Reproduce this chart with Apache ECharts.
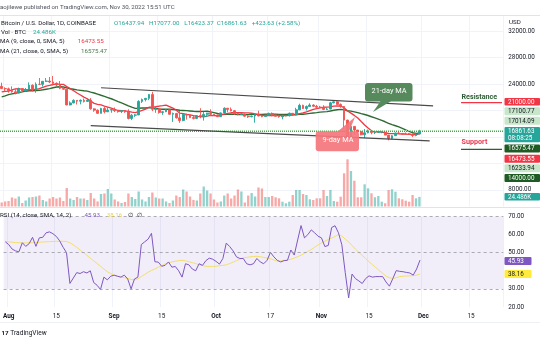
<!DOCTYPE html>
<html><head><meta charset="utf-8">
<script src="https://cdn.jsdelivr.net/npm/echarts@6/dist/echarts.min.js"></script>
<style>html,body{margin:0;padding:0;background:#fff}#c{width:540px;height:340px}</style>
</head><body><div id="c"></div>
<script>
// ---------- data ----------
const dayCount = 147; // category slots: 2022-07-31 .. 2022-12-24
const xTickDates = ['2022-08-01','2022-08-15','2022-09-01','2022-09-15','2022-10-01','2022-10-17','2022-11-01','2022-11-15','2022-12-01','2022-12-15'];
const xTickLabels = ['Aug','15','Sep','15','Oct','17','Nov','15','Dec','15'];
const priceTickLabels = [8000, 24000, 28000, 32000];
const rsiTickLabels = [20, 30, 50, 60, 70];

const open = [23640,23300,23270,22980,22820,22620,23310,22950,23170,23810,23160,23950,23940,24400,24440,24300,24100,23860,23340,23210,
20830,21140,21520,21400,21530,21370,21560,20240,20040,19560,20290,19800,20050,20130,19950,19830,19990,19800,18790,19290,
19320,21360,21650,21830,22400,20180,20240,19700,19800,20110,19420,19540,18880,18480,19400,19300,18920,18800,19220,19080,
19410,19590,19420,19310,19060,19630,20340,20160,19960,19530,19420,19450,19140,19050,19160,19380,19180,19070,19270,19550,
19330,19130,19040,19170,19210,19570,19330,20090,20770,20290,20600,20820,20630,20490,20480,20160,20210,21150,21300,20910,
20590,18540,15880,17590,17040,16800,16330,16620,16890,16660,16690,16700,16710,16280,15780,16190,16600,16520,16460,16450,
16440,16220,16437.94];
const high = [24200,23500,23450,23640,23220,23450,23350,23400,24240,23930,24230,24900,24450,24890,25050,25210,24240,24450,23600,23210,
21380,21680,21560,21660,21800,21820,21870,20320,20150,20400,20570,20470,20210,20440,20050,20000,20030,20180,19450,19460,
21550,21800,21850,22480,22800,20550,20330,19900,20190,20120,19680,19630,19950,19490,19500,19310,19180,19310,20340,19790,
19650,20180,19480,19390,19700,20470,20370,20450,20060,19610,19560,19530,19250,19220,19500,19960,19220,19360,19670,19700,
19350,19340,19250,19250,19690,19600,20400,21020,20870,20750,21080,20930,20840,20700,20790,20390,21300,21480,21370,21060,
20670,18590,18150,17640,17050,16860,17190,17120,16970,16750,16870,16800,16750,16290,16280,16660,16800,16600,16680,16600,
16480,16530,17077.00];
const low = [23220,22850,22670,22680,22430,22590,22930,22850,23150,22880,22670,23860,23600,24300,24130,23780,23700,23200,23120,20780,
20770,21070,20900,20920,21200,21320,20120,19800,19530,19550,19550,19790,19650,19760,19660,19600,19640,18650,18540,19020,
19300,21130,21370,21560,19900,19650,19510,19330,19750,19380,18270,18780,18130,18360,18620,18840,18640,18680,18820,18470,
19000,19160,19160,19000,19000,19500,19730,19860,19330,19260,19320,19030,18860,18970,18150,19100,18970,19060,19160,19110,
19070,18900,18650,19130,19080,19160,19250,20060,20230,20000,20560,20520,20250,20350,20050,20040,20190,21080,20880,20400,
17170,15590,15760,16370,16520,16240,15820,16540,16400,16430,16600,16550,16260,15480,15630,16150,16460,16350,16420,16400,
15990,16100,16423.37];
const close = [23300,23270,22980,22820,22620,23310,22950,23170,23810,23160,23950,23940,24400,24440,24300,24100,23860,23340,23210,20830,
21140,21520,21400,21530,21370,21560,20240,20040,19560,20290,19800,20050,20130,19950,19830,19990,19800,18790,19290,19320,
21360,21650,21830,22400,20180,20240,19700,19800,20110,19420,19540,18880,18480,19400,19300,18920,18800,19220,19080,19410,
19590,19420,19310,19060,19630,20340,20160,19960,19530,19420,19450,19140,19050,19160,19380,19180,19070,19270,19550,19330,
19130,19040,19170,19210,19570,19330,20090,20770,20290,20600,20820,20630,20490,20480,20160,20210,21150,21300,20910,20590,
18540,15880,17590,17040,16800,16330,16620,16890,16660,16690,16700,16710,16280,15780,16190,16600,16520,16460,16450,16440,
16220,16438,16861.63];
// volume, thousands of BTC
const volumeK = [10.2,12.8,14,23,20.4,25.5,8.9,15.3,23,24.2,25.5,28,16.6,12.8,20.4,24.2,20.4,23,14,47.2,
20.4,16.6,24.2,20.4,20.4,16.6,34.4,20.4,12.8,31.9,33.2,44.6,33.2,17.9,12.8,8.9,11.5,33.2,24.2,19.1,
38.3,17.9,12.8,24.2,35.7,23,20.4,20.4,12.8,8.9,15.3,28,24.2,43.4,38.3,25.5,16.6,15.3,33.2,51,
40.8,33.2,17.9,10.2,12.8,28,33.2,20.4,28,43.4,38.3,10.2,28,34.4,25.5,48.5,45.9,24.2,24.2,26.8,
23.5,20.9,12.2,8.2,12.2,29.3,42.1,42.1,31.9,29.3,18.4,16.6,20.9,20.9,42.1,26.8,42.1,14,12.2,25,
84.7,120.4,90.5,65.8,23.5,23.5,56.6,46.4,33.7,23.5,26.8,12.2,8.2,42.1,43.9,37.7,20.9,18.4,14.8,12.2,
29.3,20.9,24.486];
const ma9 = [22790,22880,22930,23090,23250,23290,23190,23120,23140,23120,23200,23300,23480,23680,23790,23920,24000,23940,23950,23600,
23290,22970,22630,22330,22020,21770,21420,21070,20930,20830,20640,20490,20340,20180,19990,19960,19930,19850,19740,19680,
19830,20000,20210,20490,20510,20560,20660,20720,20810,20590,20360,20030,19590,19510,19400,19320,19210,19110,19070,19050,
19130,19240,19230,19200,19280,19450,19560,19650,19670,19650,19650,19630,19630,19580,19470,19360,19260,19240,19250,19240,
19240,19230,19240,19220,19260,19290,19380,19520,19620,19790,19980,20150,20290,20390,20480,20490,20540,20650,20680,20660,
20430,19910,19590,19250,18870,18330,17810,17360,16930,16720,16810,16710,16630,16520,16500,16500,16460,16440,16410,16380,
16340,16350,16473.55];
const ma21 = [22050,22200,22380,22500,22600,22720,22800,22910,22980,22970,23000,23040,23120,23210,23300,23430,23550,23570,23540,23400,
23280,23200,23110,23040,22970,22920,22770,22630,22460,22290,22130,21950,21770,21560,21340,21130,20930,20680,20490,20310,
20330,20360,20370,20420,20350,20300,20210,20190,20190,20190,20150,20110,20030,20000,19970,19920,19870,19840,19850,19860,
19870,19780,19670,19540,19400,19410,19410,19420,19410,19370,19380,19360,19370,19400,19400,19390,19400,19420,19440,19450,
19430,19410,19400,19390,19420,19400,19390,19420,19430,19490,19550,19610,19670,19740,19790,19830,19920,20030,20110,20160,
20120,19960,19890,19790,19680,19520,19390,19240,19050,18880,18690,18490,18290,18060,17860,17690,17510,17290,17060,16850,
16640,16540,16575.47];
const rsi = [56,54.5,52,51,50.5,55.5,53.5,55,58.5,53.5,58.2,58.5,61,61.5,60.5,59,56.5,53,50,33,
36,39,38.5,39.5,38.8,40,33.5,32,29.7,36.5,35,37,37.6,37,36.5,37.6,35.5,30,35.5,36.5,
54.5,56,57.5,60.7,45,44.8,42.5,43,44.9,42,42.4,40,36.5,43.9,43.3,41,40,43.9,43,45.6,
47,46.4,45.2,43.7,46.8,55.3,53.4,51,47.7,46.8,46.8,43.9,43.3,43.9,46.8,44.9,43.9,45.8,50.2,47.7,
45.8,44.9,45.6,45.8,51.5,48.7,57,65,58.2,60,62.6,61,59.1,58.2,53.4,54,63.9,64.9,61,54.4,
39,25,38.2,35.7,34.4,33,35.7,37.2,36.5,36.8,36.8,36.8,33.8,31.5,35.7,40.1,39.7,39.5,39.1,38.8,
37.6,41,45.93];
const rsiMa = [56.3,56,55.8,55.6,55.5,55.4,55.4,55.5,55.6,55.7,55.8,55.9,56,56.1,56.2,56.3,56.3,56.3,56.2,55.5,
54.3,53,51.5,50,48.5,47,45.5,44,42.5,41,39.5,38.5,37.5,37,36.5,36.2,35.8,35.2,35,35.5,
36.8,38,39.2,40.2,41,42,42.8,43.8,44.4,44.9,45.3,45.6,45.8,45.5,45,44.5,44,43.4,42.9,42.5,
42.4,42.4,42.5,42.8,43,43.3,44,44.8,45.6,46.4,47.1,47.4,47.7,47.9,48,47.8,47.4,47,46.7,46,
45.3,45.5,45.8,46,46.4,47,47.8,48.6,49.6,50.7,51.8,53,54.3,55.4,56.4,57.3,58.1,59,60,59.2,
57.5,56,54,52,50.2,48.5,46.8,45,43.4,41.8,40.2,38.7,37,36.2,35.7,36.2,36.8,37,37.1,37.2,
37.3,37.6,38.16];
const channelUpper = [['2022-08-29', 23430], ['2022-12-04', 20680]];
const channelLower = [['2022-08-26', 17700], ['2022-12-03', 15390]];
const lastClose = 16861.63, prevLevel = 17014.09;

// ---------- build ----------
const cats = [];
for (let i = 0; i < dayCount; i++) {
  const d = new Date(Date.UTC(2022, 6, 31 + i));
  cats.push(d.toISOString().slice(0, 10));
}
const UP = '#26a69a', DOWN = '#ef5350';
const candles = open.map((o, i) => [o, close[i], low[i], high[i]]);
const vols = volumeK.map((v, i) => ({ value: v, itemStyle: { color: close[i] >= open[i] ? 'rgba(38,166,154,0.5)' : 'rgba(239,83,80,0.5)' } }));
const FONT = 'Roboto, "Noto Sans", sans-serif';
const DARK = '#131722';
const isTick = (idx, val) => xTickDates.indexOf(val) >= 0;

const W = 503.3;
const grids = [
  { left: 0, top: 31, width: W, height: 158.9 },     // price
  { left: 0, top: 16, width: W, height: 190.5 },     // volume overlay
  { left: 0, top: 216.5, width: W, height: 90.5 }    // RSI
];
function xa(g, extra) {
  return Object.assign({
    type: 'category', gridIndex: g, data: cats, boundaryGap: true,
    axisLine: { show: false }, axisTick: { show: false }, axisLabel: { show: false },
    splitLine: { show: false }
  }, extra || {});
}
const vSplit = { show: true, interval: isTick, lineStyle: { color: '#f0f3fa', width: 1 } };

const texts = [];
function txt(x, y, s, color, size, weight) {
  texts.push({ type: 'text', left: x, top: y - (size || 6.5) * 0.62, z: 100, silent: true,
    style: { text: s, fill: color, font: (weight || 'normal') + ' ' + (size || 6.5) + 'px ' + FONT } });
}
const LS = 6.2;
// header + legends
txt(0, 8.3, 'aojilewe published on TradingView.com, Nov 30, 2022 15:51 UTC', '#50535e', 6.1);
txt(1, 24, 'Bitcoin / U.S. Dollar, 1D, COINBASE', DARK, LS);
txt(114, 24, 'O16437.94', UP, LS);
txt(149, 24, 'H17077.00', UP, LS);
txt(184.3, 24, 'L16423.37', UP, LS);
txt(216.7, 24, 'C16861.63', UP, LS);
txt(251.7, 24, '+423.63 (+2.58%)', UP, LS);
txt(1, 33.3, 'Vol · BTC', DARK, LS);
txt(33, 33.3, '24.486K', UP, LS);
txt(0, 42.7, 'MA (9, close, 0, SMA, 5)', DARK, LS);
txt(77.7, 42.7, '16473.55', '#f23645', LS);
txt(0, 52.3, 'MA (21, close, 0, SMA, 5)', DARK, LS);
txt(81, 52.3, '16575.47', '#4c7a50', LS);
txt(0, 216.5, 'RSI (14, close, SMA, 14, 2)', DARK, LS);
txt(84.4, 216.5, '45.93', '#7e57c2', LS);
txt(106.7, 216.5, '38.16', '#e8d44d', LS);
txt(128, 216.5, '∅', DARK, LS);
txt(137, 216.5, '∅', DARK, LS);
txt(509, 23, 'USD', DARK, LS);
txt(10.3, 334, 'TradingView', DARK, 6.6);
txt(1.5, 334, '17', DARK, 6.2, 'bold');
// annotations
txt(461.5, 97.7, 'Resistance', '#2e5e34', 7.2, 'bold');
txt(461.5, 143.3, 'Support', '#e8384f', 7.2, 'bold');

// right-side price tags
const tags = [
  { t: '21000.00', y: 101.7, h: 7.6, bg: '#f23645', fg: '#fff' },
  { t: '17100.77', y: 111.2, h: 8, bg: '#c8e6c9', fg: DARK },
  { t: '17014.09', y: 120.8, h: 8, bg: '#c8e6c9', fg: DARK },
  { t: '16861.63\n08:08:25', y: 134.6, h: 15.4, bg: '#26a69a', fg: '#fff' },
  { t: '16575.47', y: 148.4, h: 8, bg: '#1e5a24', fg: '#fff' },
  { t: '16473.55', y: 158.8, h: 8, bg: '#f23645', fg: '#fff' },
  { t: '16233.94', y: 168.3, h: 8, bg: '#c8e6c9', fg: DARK },
  { t: '14000.00', y: 178, h: 8, bg: '#1e5a24', fg: '#fff' },
  { t: '24.486K', y: 196.7, h: 7.6, bg: '#26a69a', fg: '#fff' },
  { t: '45.93', y: 261, h: 8, bg: '#7e57c2', fg: '#fff', w: 27 },
  { t: '38.16', y: 274, h: 8, bg: '#ffeb3b', fg: DARK, w: 27 }
];
const tagEls = [];
tags.forEach(g => {
  tagEls.push({ type: 'rect', z: 110, silent: true, shape: { x: 504.5, y: g.y - g.h / 2, width: g.w || 35.5, height: g.h, r: 1 }, style: { fill: g.bg } });
  tagEls.push({ type: 'text', z: 111, silent: true, left: 508, top: g.y - g.h / 2 + 0.6,
    style: { text: g.t, fill: g.fg, font: '6.3px ' + FONT, lineHeight: 7.6 } });
});

const shapes = [
  { type: 'line', z: 50, silent: true, shape: { x1: 0, y1: 15.5, x2: 540, y2: 15.5 }, style: { stroke: '#e0e3eb', lineWidth: 1 } },
  { type: 'line', z: 50, silent: true, shape: { x1: 0, y1: 207.5, x2: 540, y2: 207.5 }, style: { stroke: '#e0e3eb', lineWidth: 1 } },
  { type: 'line', z: 50, silent: true, shape: { x1: 0, y1: 322.5, x2: 540, y2: 322.5 }, style: { stroke: '#eef0f4', lineWidth: 1 } },
  // Resistance / Support underlines
  { type: 'line', z: 100, silent: true, shape: { x1: 461, y1: 102.6, x2: 502, y2: 102.6 }, style: { stroke: '#f23645', lineWidth: 1.2 } },
  { type: 'line', z: 100, silent: true, shape: { x1: 461, y1: 149.4, x2: 502, y2: 149.4 }, style: { stroke: '#2e5e34', lineWidth: 1.2 } },
  // 21-day MA callout
  { type: 'polygon', z: 90, silent: true, shape: { points: [[381, 100.5], [392, 100.5], [373, 112]] }, style: { fill: '#568a5c' } },
  { type: 'rect', z: 90, silent: true, shape: { x: 365, y: 83, width: 47.5, height: 18.5, r: 3 }, style: { fill: '#568a5c' } },
  { type: 'text', z: 91, silent: true, left: 371.5, top: 87.5, style: { text: '21-day MA', fill: '#fff', font: '7.4px ' + FONT } },
  // 9-day MA callout
  { type: 'polygon', z: 90, silent: true, shape: { points: [[337, 132], [349, 132], [355, 117]] }, style: { fill: '#f4767c', opacity: 0.92 } },
  { type: 'rect', z: 90, silent: true, shape: { x: 315.7, y: 131.3, width: 43.3, height: 20, r: 3 }, style: { fill: '#f4767c', opacity: 0.92 } },
  { type: 'text', z: 91, silent: true, left: 322.5, top: 137, style: { text: '9-day MA', fill: '#fff', font: '7.4px ' + FONT } }
];

const chart = echarts.init(document.getElementById('c'), null, { renderer: 'canvas' });
chart.setOption({
  animation: false,
  backgroundColor: '#ffffff',
  textStyle: { fontFamily: FONT },
  grid: grids,
  xAxis: [
    xa(0),
    xa(1, { splitLine: vSplit }),
    xa(2, {
      splitLine: vSplit,
      axisLine: { show: false },
      axisLabel: {
        show: true, interval: isTick, margin: 6, color: DARK, fontSize: 6.4, fontFamily: FONT,
        formatter: v => { const k = xTickDates.indexOf(v); if (k < 0) return ''; const t = xTickLabels[k]; return isNaN(+t) ? '{b|' + t + '}' : t; },
        rich: { b: { fontWeight: 'bold', fontSize: 6.4, fontFamily: FONT, color: DARK } }
      }
    })
  ],
  yAxis: [
    { type: 'value', gridIndex: 0, position: 'right', min: 8000, max: 32000, interval: 4000,
      axisLine: { show: false }, axisTick: { show: false },
      splitLine: { show: true, lineStyle: { color: '#f0f3fa', width: 1 } },
      axisLabel: { margin: 5, color: DARK, fontSize: 6.3, fontFamily: FONT, align: 'left',
        formatter: v => priceTickLabels.indexOf(v) >= 0 ? v.toFixed(2) : '' } },
    { type: 'value', gridIndex: 1, min: 0, max: 486, show: false },
    { type: 'value', gridIndex: 2, position: 'right', min: 20, max: 70, interval: 10,
      axisLine: { show: false }, axisTick: { show: false }, splitLine: { show: false },
      axisLabel: { margin: 5, color: DARK, fontSize: 6.3, fontFamily: FONT, align: 'left',
        formatter: v => rsiTickLabels.indexOf(v) >= 0 ? v.toFixed(2) : '' } }
  ],
  series: [
    { type: 'bar', name: 'Vol', xAxisIndex: 1, yAxisIndex: 1, data: vols, barWidth: '68%', z: 1, silent: true },
    { type: 'line', name: 'MA21', xAxisIndex: 0, yAxisIndex: 0, data: ma21, symbol: 'none', z: 3,
      lineStyle: { color: '#2e6b32', width: 1.4 } },
    { type: 'line', name: 'MA9', xAxisIndex: 0, yAxisIndex: 0, data: ma9, symbol: 'none', z: 4,
      lineStyle: { color: '#f23645', width: 1.3 } },
    { type: 'candlestick', name: 'BTCUSD', xAxisIndex: 0, yAxisIndex: 0, data: candles, z: 5, barWidth: '66%',
      itemStyle: { color: UP, color0: DOWN, borderColor: UP, borderColor0: DOWN, borderWidth: 0.9 },
      markLine: { silent: true, symbol: ['none', 'none'], label: { show: false }, animation: false,
        data: [
          { yAxis: prevLevel, lineStyle: { color: '#a5d6a7', type: 'dotted', width: 1 } },
          { yAxis: lastClose, lineStyle: { color: UP, type: 'dotted', width: 1 } }
        ] } },
    { type: 'line', name: 'upper', xAxisIndex: 0, yAxisIndex: 0, data: channelUpper, symbol: 'none', z: 6,
      lineStyle: { color: '#4a4a4a', width: 1.2 } },
    { type: 'line', name: 'lower', xAxisIndex: 0, yAxisIndex: 0, data: channelLower, symbol: 'none', z: 6,
      lineStyle: { color: '#4a4a4a', width: 1.2 } },
    { type: 'line', name: 'RSI', xAxisIndex: 2, yAxisIndex: 2, data: rsi, symbol: 'none', z: 4,
      lineStyle: { color: '#7e57c2', width: 1 },
      markArea: { silent: true, itemStyle: { color: 'rgba(126,87,194,0.1)' }, data: [[{ yAxis: 30 }, { yAxis: 70 }]] },
      markLine: { silent: true, symbol: ['none', 'none'], label: { show: false },
        lineStyle: { color: '#9598a1', type: [3, 3], width: 0.8 },
        data: [{ yAxis: 70 }, { yAxis: 50 }, { yAxis: 30 }] } },
    { type: 'line', name: 'RSI MA', xAxisIndex: 2, yAxisIndex: 2, data: rsiMa, symbol: 'none', z: 3,
      lineStyle: { color: '#f2df6b', width: 1 } }
  ],
  graphic: { elements: shapes.concat(texts, tagEls) }
});
</script>
</body></html>
